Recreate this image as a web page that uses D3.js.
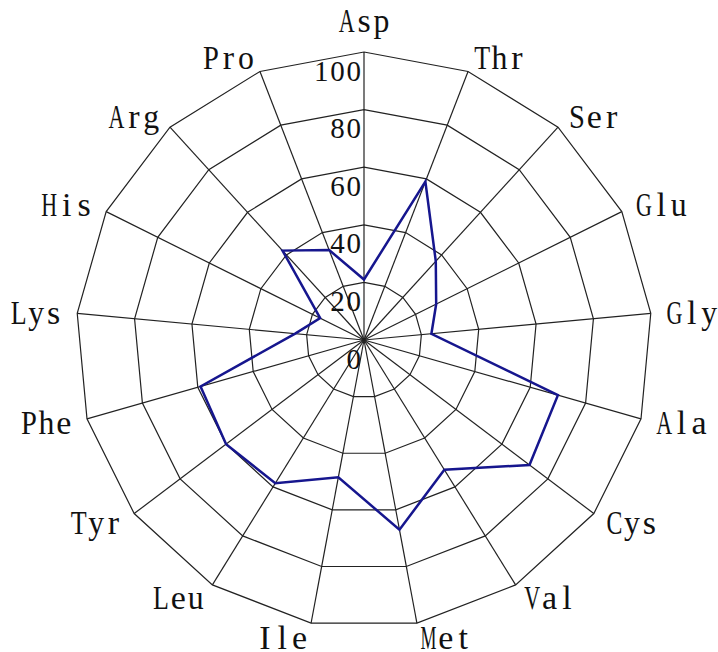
<!DOCTYPE html>
<html>
<head>
<meta charset="utf-8">
<script src="https://cdn.jsdelivr.net/npm/d3@7"></script>
<style>
  html, body { margin: 0; padding: 0; background: #fff; }
  svg { display: block; }
  text { font-family: "Liberation Serif", "DejaVu Serif", serif; fill: #111; }
</style>
</head>
<body>
<svg id="chart" width="718" height="652"></svg>
<script>
const categories = ["Asp","Thr","Ser","Glu","Gly","Ala","Cys","Val","Met","Ile","Leu","Tyr","Phe","Lys","His","Arg","Pro"];
const values = [21, 59, 37, 28, 23.5, 70, 72, 53, 67, 48.5, 58.5, 60, 59, 24, 17, 42, 33.5];
const ringTicks = [0, 20, 40, 60, 80, 100];
const tickLabels = ["0", "20", "40", "60", "80", "100"];

const W = 718, H = 652;
const cx = 364, cy = 340, R = 288;
const svg = d3.select("#chart");
const g = svg.append("g").attr("transform", `translate(${cx},${cy})`);

const r = d3.scaleLinear().domain([0, 100]).range([0, R]);
const n = categories.length;
const angle = d3.scaleLinear().domain([0, n]).range([0, 2 * Math.PI]);
const px = (i, v) => r(v) * Math.sin(angle(i));
const py = (i, v) => -r(v) * Math.cos(angle(i));

// monospace-like placement: each character centred in a fixed-pitch cell
const measurer = svg.append("text").attr("x", -1000).attr("y", -1000);
function charWidth(ch, size) {
  measurer.attr("font-size", size).text(ch);
  return measurer.node().getComputedTextLength();
}
function monoText(sel, str, xAnchor, y, anchor, size, pitch) {
  const total = str.length * pitch;
  const x0 = anchor === "middle" ? xAnchor - total / 2 : anchor === "end" ? xAnchor - total : xAnchor;
  const t = sel.append("text").attr("y", y).attr("font-size", size);
  str.split("").forEach((ch, k) => {
    const w = charWidth(ch, size);
    const maxW = pitch - 1.5;
    const ww = Math.min(w, maxW);
    const sp = t.append("tspan")
      .attr("x", (x0 + k * pitch + (pitch - ww) / 2).toFixed(2))
      .text(ch);
    if (w > maxW) sp.attr("textLength", maxW.toFixed(2)).attr("lengthAdjust", "spacingAndGlyphs");
  });
}

// grid rings
const ringLine = d3.lineRadial()
  .angle((d, i) => angle(i))
  .radius(d => r(d))
  .curve(d3.curveLinearClosed);
ringTicks.filter(t => t > 0).forEach(t => {
  g.append("path")
    .attr("d", ringLine(categories.map(() => t)))
    .attr("fill", "none")
    .attr("stroke", "#222")
    .attr("stroke-width", 1.2);
});

// spokes
g.selectAll("line.spoke").data(categories).join("line")
  .attr("class", "spoke")
  .attr("x1", 0).attr("y1", 0)
  .attr("x2", (d, i) => px(i, 100))
  .attr("y2", (d, i) => py(i, 100))
  .attr("stroke", "#222")
  .attr("stroke-width", 1.2);

// series
const seriesLine = d3.lineRadial()
  .angle((d, i) => angle(i))
  .radius(d => r(d))
  .curve(d3.curveLinearClosed);
g.append("path")
  .attr("d", seriesLine(values))
  .attr("fill", "none")
  .attr("stroke", "#16168e")
  .attr("stroke-width", 2.5)
  .attr("stroke-linejoin", "miter");

// ring labels
const tickG = g.append("g").attr("class", "ticks");
ringTicks.forEach((t, i) => {
  monoText(tickG, tickLabels[i], -2, -r(t) + 28.5, "end", 29, 16.3);
});

// category labels
const gap = 15;
const catG = g.append("g").attr("class", "cats");
categories.forEach((c, i) => {
  const s = Math.sin(angle(i));
  const ax = px(i, 100) * (R + gap) / R;
  const ay = py(i, 100) * (R + gap) / R;
  const anchor = Math.abs(s) < 0.01 ? "middle" : (s > 0 ? "start" : "end");
  const y = i === 0 ? ay - 5 : ay + 11.5;
  monoText(catG, c, ax, y, anchor, 34, 17.4);
});
measurer.remove();
</script>
</body>
</html>
